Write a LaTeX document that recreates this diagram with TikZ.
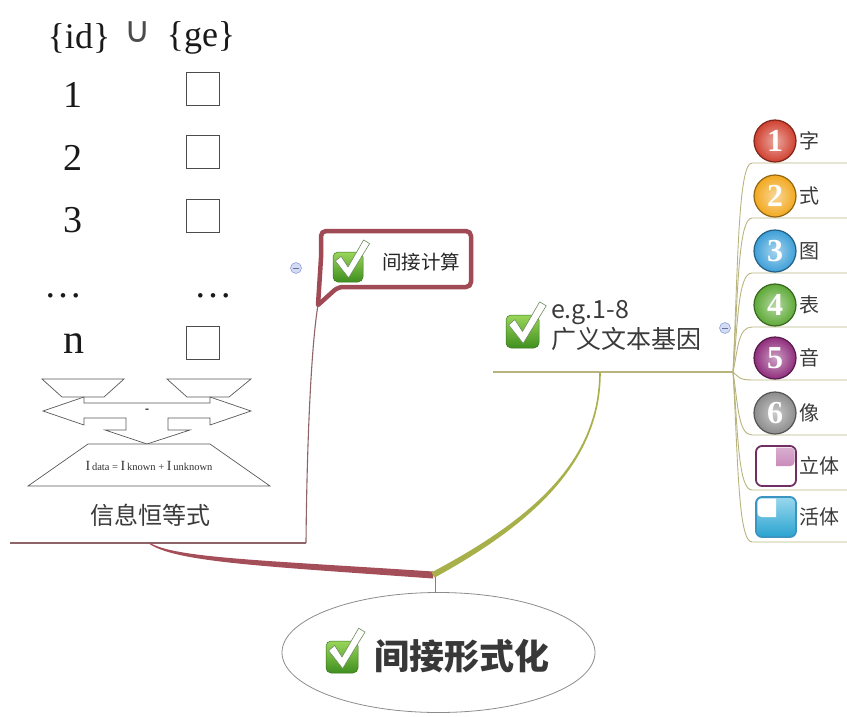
\documentclass[tikz,border=0pt]{standalone}
\usepackage{fontspec}
\setmainfont{Liberation Serif}
\newfontfamily\cjk{Noto Sans CJK SC}
\newfontfamily\symbolfont{DejaVu Sans}
\usetikzlibrary{shapes.geometric,calc}

\definecolor{inkgray}{HTML}{3A3A3A}
\definecolor{branchred}{HTML}{A34E59}
\definecolor{branchgreen}{HTML}{A8B04A}
\definecolor{olive}{HTML}{B9B47E}
\definecolor{calloutred}{HTML}{A04A55}
\definecolor{linkred}{HTML}{8E6468}
\definecolor{chklight}{HTML}{9AD65A}
\definecolor{chkdark}{HTML}{3F8F1F}
\definecolor{chkedge}{HTML}{3B7420}
\definecolor{chkline}{HTML}{6E8A5C}
\definecolor{collfill}{HTML}{D3DCF4}
\definecolor{colledge}{HTML}{8FA3D8}
\definecolor{ballred}{HTML}{D0402F}
\definecolor{ballorange}{HTML}{F2A81E}
\definecolor{ballblue}{HTML}{3D9FD8}
\definecolor{ballgreen}{HTML}{5DA936}
\definecolor{ballpurple}{HTML}{8F2D7C}
\definecolor{ballgray}{HTML}{8C8C8C}
\definecolor{solidedge}{HTML}{6E2F62}
\definecolor{solidfill}{HTML}{C98BBB}
\definecolor{liveedge}{HTML}{3C94C0}
\definecolor{livetop}{HTML}{9AD8EE}
\definecolor{livebot}{HTML}{2AA3D0}

\tikzset{
  chk/.pic={
    \shade[top color=chklight, bottom color=chkdark, draw=chkedge,
           line width=0.5pt, rounded corners=5pt] (0,0) rectangle (1,-1);
    \filldraw[fill=white, draw=chkline, line width=0.6pt, line join=round]
      (0.08,-0.3) -- (0.27,-0.14) -- (0.5,-0.5) -- (1.02,0.4)
      -- (1.22,0.28) -- (0.52,-0.86) -- cycle;
  }
}

\begin{document}
\begin{tikzpicture}[x=1pt,y=1pt,
  every node/.style={inner sep=0pt,outer sep=0pt},
  mtxt/.style={font=\fontsize{38}{40}\selectfont, text=black!90},
  slot/.style={draw=black!70, line width=0.9pt, minimum size=33pt},
  figline/.style={draw=black!65, line width=0.7pt, fill=white},
  topictxt/.style={font=\cjk\fontsize{24}{28}\selectfont, text=inkgray},
  itemtxt/.style={font=\cjk\fontsize{20}{24}\selectfont, text=inkgray, anchor=west},
  numball/.style={circle, minimum size=42pt, draw=#1!60!black,
                  line width=1.2pt, inner color=#1!45!white, outer color=#1,
                  text=white, font=\bfseries\fontsize{32}{32}\selectfont},
  subline/.style={draw=olive, line width=0.9pt},
  collapse/.style={circle, draw=colledge, fill=collfill, line width=0.6pt,
                   minimum size=11pt}
]
\useasboundingbox (0,0) rectangle (847,-716);

% ---------- identity figure (left) ----------
\node[mtxt, font=\fontsize{36}{38}\selectfont] (hid) at (79,-38) {\{id\}};
\node[font=\symbolfont\fontsize{36}{38}\selectfont, text=black!70] (hcup) at (138,-32) {∪};
\node[mtxt, font=\fontsize{36}{38}\selectfont] (hge) at (201,-38) {\{ge\}};

\node[mtxt] (r1) at (73,-95) {1};
\node[mtxt] (r2) at (73,-158) {2};
\node[mtxt] (r3) at (73,-220) {3};
\node[mtxt] (rd) at (64,-296) {…};
\node[mtxt, font=\fontsize{42}{44}\selectfont] (rn) at (74,-344) {n};

\node[slot] (s1) at (202.5,-88.5) {};
\node[slot] (s2) at (202.5,-151.5) {};
\node[slot] (s3) at (202.5,-215.5) {};
\node[mtxt] (sd) at (213,-296) {…};
\node[slot] (sn) at (202.5,-342.5) {};

% two inverted trapezoids
\draw[figline] (42,-379) -- (124,-379) -- (104,-397) -- (62,-397) -- cycle;
\draw[figline] (167,-379) -- (251,-379) -- (229,-397) -- (187,-397) -- cycle;
% double arrow with downward branch
\draw[figline] (43,-411) -- (84,-397) -- (84,-403) -- (210,-403) -- (210,-397)
  -- (251,-411) -- (210,-425) -- (210,-418) -- (168,-418) -- (168,-430)
  -- (190,-430) -- (147,-444) -- (105,-430) -- (126,-430) -- (126,-418)
  -- (84,-418) -- (84,-425) -- cycle;
\node[font=\bfseries\fontsize{12}{12}\selectfont] (minus) at (147,-411) {-};
% base trapezoid with the equation
\draw[figline] (88,-444) -- (210,-444) -- (270,-486) -- (28,-486) -- cycle;
\node[font=\fontsize{10.5}{12}\selectfont, text=black!80] (eq) at (149,-466)
  {{\fontsize{14}{14}\selectfont I}\,data = {\fontsize{14}{14}\selectfont I}\,known + {\fontsize{14}{14}\selectfont I}\,unknown};

\node[topictxt] (lt) at (150,-515) {信息恒等式};
\coordinate (lt-l) at (10,-543);
\coordinate (lt-r) at (306,-543);
\coordinate (lt-m) at (149,-543);
\draw[draw=linkred, line width=1.1pt] (lt-l) -- (lt-r);

% ---------- callout ----------
\coordinate (co-tip) at (318,-305);
\draw[draw=calloutred, line width=4.5pt, fill=white, line join=round, rounded corners=5pt]
  (321,-258) -- (321,-231) -- (471,-231) -- (471,-287) -- (338,-287)
  [sharp corners] -- (co-tip) -- cycle;
\pic[scale=30] (chkA) at (333,-252) {chk};
\node[font=\cjk\fontsize{19.5}{22}\selectfont, text=black!85] (calc) at (421,-262) {间接计算};
\draw[draw=linkred, line width=1.1pt] (lt-r) .. controls (307,-430) and (312,-340) .. (co-tip);
\node[collapse] (colA) at (296,-268) {};
\draw[colledge!70!black, line width=0.6pt] ($(colA)+(-3,0)$) -- ($(colA)+(3,0)$);

% ---------- central topic ----------
\coordinate (jn) at (435,-575);
\node[ellipse, draw=black!45, line width=0.8pt, fill=white,
      minimum width=313pt, minimum height=120pt] (hub) at (438.5,-652.5) {};
\draw[black!50, line width=0.8pt] (jn) -- (jn |- hub.north);
\pic[scale=32] (chkH) at (326,-641) {chk};
\node[font=\cjk\bfseries\fontsize{35}{40}\selectfont, text=black!78] (hubt) at (462,-656) {间接形式化};

% tapered main branches
\fill[branchred] ($(lt-m)+(0.4,0.4)$) .. controls (175,-558) and (260,-560) .. ($(jn)+(-2,3.5)$)
  -- ($(jn)+(-2,-3.5)$) .. controls (260,-566) and (175,-562) .. ($(lt-m)+(-0.4,-0.4)$) -- cycle;
\coordinate (eg-m) at (600,-372);
\fill[branchgreen] ($(jn)+(-3.5,2.6)$) .. controls (534,-518) and (599.2,-460) .. ($(eg-m)+(-0.8,0)$)
  -- ($(eg-m)+(0.8,0)$) .. controls (600.8,-460) and (536,-522) .. ($(jn)+(-0.5,-2.6)$) -- cycle;

% ---------- e.g. topic ----------
\coordinate (eg-l) at (493,-372);
\coordinate (eg-r) at (733,-372);
\draw[draw=olive, line width=1.6pt] (eg-l) -- (eg-r);
\pic[scale=33] (chkB) at (506,-315) {chk};
\node[font=\cjk\fontsize{25}{30}\selectfont, text=inkgray, anchor=west, align=left] (eg) at (551,-326)
  {e.g.1-8\\广义文本基因};
\node[collapse] (colB) at (725,-328) {};
\draw[colledge!70!black, line width=0.6pt] ($(colB)+(-3,0)$) -- ($(colB)+(3,0)$);

% ---------- item list ----------
\foreach \i/\u/\c/\t in {1/163/ballred/字, 2/218/ballorange/式, 3/273/ballblue/图,
                         4/327/ballgreen/表, 5/380/ballpurple/音, 6/435/ballgray/像}{
  \coordinate (ul\i) at (752,-\u);
  \draw[subline] (eg-r) .. controls (738,{-(\u+372)/2}) and (738,-\u) .. (ul\i) -- (847,-\u);
  \node[numball=\c] (ic\i) at (775,{22-\u}) {\i};
  \node[itemtxt] (it\i) at (799,{22-\u}) {\t};
}
\foreach \i/\u in {7/490, 8/542}{
  \coordinate (ul\i) at (752,-\u);
  \draw[subline] (eg-r) .. controls (738,{-(\u+372)/2}) and (738,-\u) .. (ul\i) -- (847,-\u);
}
% solid-body icon
\node[draw=solidedge, line width=1.8pt, fill=white, rounded corners=6pt,
      minimum size=40pt] (ic7) at (776,-466) {};
\shade[top color=solidfill!70, bottom color=solidfill] (776,-447.5)
  [rounded corners=4pt] -| (794.5,-466) [sharp corners] -- (776,-466) -- cycle;
\node[itemtxt] (it7) at (799,-466) {立体};
% live-body icon
\node[draw=liveedge, line width=1.8pt, top color=livetop, bottom color=livebot,
      rounded corners=6pt, minimum size=40pt] (ic8) at (776,-517) {};
\fill[white] (776,-498.5) [rounded corners=4pt] -| (757.5,-517) [sharp corners] -- (776,-517) -- cycle;
\node[itemtxt] (it8) at (799,-517) {活体};
\end{tikzpicture}
\end{document}
